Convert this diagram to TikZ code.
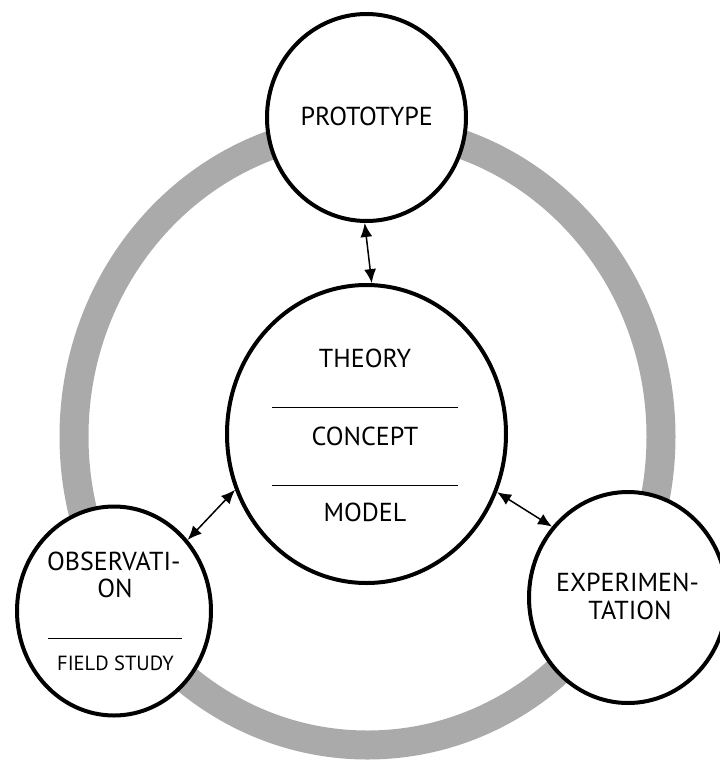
\documentclass[tikz,border=0pt]{standalone}
\usepackage{fontspec}
\setmainfont{PT Sans}
\usetikzlibrary{shapes.geometric,arrows.meta}
\definecolor{ringgray}{RGB}{170,170,170}
\begin{document}
\begin{tikzpicture}[x=1pt,y=-1pt,
  bubble/.style={ellipse,draw=black,line width=4pt,fill=white,inner sep=0pt},
  txt/.style={font=\fontsize{26}{28}\selectfont,inner sep=0pt},
  smalltxt/.style={font=\fontsize{20.5}{22}\selectfont,inner sep=0pt},
  rule/.style={line width=1pt,black},
  link/.style={{Latex[length=14pt,width=12pt]}-{Latex[length=14pt,width=12pt]},line width=1.5pt}]
\useasboundingbox (0,0) rectangle (720,761);

% grey cycle behind the four stations
\draw[line width=29pt,ringgray] (367.5,436.5) ellipse [x radius=293.5, y radius=308.5];

% stations
\node[bubble,minimum width=199pt,minimum height=207pt] (proto) at (366.5,117.5) {};
\node[bubble,minimum width=279pt,minimum height=298pt] (core) at (366.5,434) {};
\node[bubble,minimum width=194pt,minimum height=209pt] (obs) at (114,611) {};
\node[bubble,minimum width=198pt,minimum height=211pt] (exp) at (628,597.5) {};

% labels
\node[txt] (protoT) at (366.7,116) {PROTOTYPE};
\node[txt] (theory) at (365,358) {THEORY};
\node[txt] (concept) at (365,436.5) {CONCEPT};
\node[txt] (model) at (365,512.5) {MODEL};
\draw[rule] (272,407) -- (458,407);
\draw[rule] (272,485) -- (458,485);

\node[txt] (obs1) at (113.8,561) {OBSERVATI-};
\node[txt] (obs2) at (115,588.3) {ON};
\draw[rule] (48,638.3) -- (182,638.3);
\node[smalltxt] (field) at (115.5,663.7) {FIELD STUDY};

\node[txt] (exp1) at (627.5,582.5) {EXPERIMEN-};
\node[txt] (exp2) at (630,610.8) {TATION};

% two-way links between the core and each station
\draw[link] (proto.269) -- (core.88);
\draw[link] (core.203.4) -- (obs.44.6);
\draw[link] (core.336.9) -- (exp.137);
\end{tikzpicture}
\end{document}
